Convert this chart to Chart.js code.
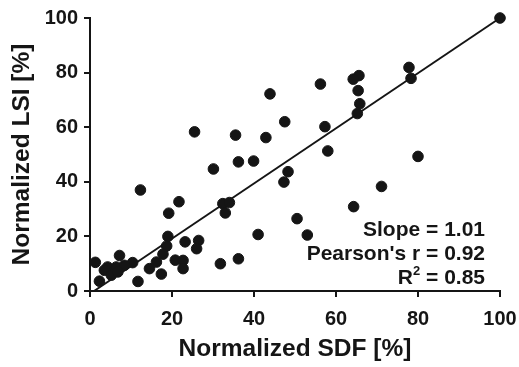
<!DOCTYPE html>
<html>
<head>
<meta charset="utf-8">
<script src="https://cdn.jsdelivr.net/npm/chart.js@4.4.1/dist/chart.umd.min.js"></script>
<style>
  html, body { margin: 0; padding: 0; background: #fff; }
  #wrap { width: 519px; height: 367px; }
</style>
</head>
<body>
<div id="wrap"><canvas id="scatter"></canvas></div>
<script>
// normalized SDF (x) and LSI (y)
const sdf = [100, 77.8, 78.3, 65.6, 64.2, 65.4, 65.8, 65.2, 56.2, 47.5,
             57.3, 58.0, 43.9, 25.5, 35.5, 42.9, 30.1, 36.2, 39.9, 48.3,
             47.3, 50.5, 12.3, 21.7, 19.2, 32.4, 34.0, 33.0, 41.0, 19.0,
             18.7, 23.2, 26.5, 26.0, 36.2, 31.8, 17.8, 20.8, 22.7, 22.7,
             16.2, 14.5, 17.4, 11.7, 10.4, 7.2, 1.3, 4.3, 6.4, 8.4,
             2.3, 3.5, 5.2, 6.8, 80.0, 71.1, 64.3, 53.0];
const lsi = [100, 81.9, 77.9, 78.9, 77.6, 73.4, 68.6, 65.0, 75.8, 62.0,
             60.2, 51.3, 72.2, 58.3, 57.1, 56.2, 44.7, 47.3, 47.6, 43.7,
             39.9, 26.5, 37.0, 32.7, 28.5, 32.0, 32.4, 28.6, 20.7, 20.0,
             16.5, 18.0, 18.5, 15.5, 11.8, 10.0, 13.5, 11.3, 11.2, 8.2,
             10.6, 8.2, 6.2, 3.5, 10.4, 13.0, 10.5, 8.8, 8.8, 9.4,
             3.6, 7.6, 5.8, 7.0, 49.3, 38.3, 30.9, 20.5];

// linear fit
const fitSlope = 1.01;
const fitIntercept = -1.0;
const fitRange = [1, 100];

const statLines = ['Slope = 1.01', "Pearson's r = 0.92", 'R2 = 0.85'];

const ink = '#151515';
const bold = (size) => ({ family: 'Liberation Sans, Arial, sans-serif', size: size, weight: 'bold' });

const points = sdf.map((x, i) => ({ x: x, y: lsi[i] }));
const fitLine = fitRange.map(x => ({ x: x, y: fitSlope * x + fitIntercept }));

const statsText = {
    id: 'statsText',
    afterDraw(chart) {
        const ctx = chart.ctx;
        const right = 485;
        ctx.save();
        ctx.fillStyle = ink;
        ctx.font = 'bold 21px "Liberation Sans", Arial, sans-serif';
        ctx.textAlign = 'right';
        ctx.textBaseline = 'alphabetic';
        ctx.fillText(statLines[0], right, 236);
        ctx.fillText(statLines[1], right, 260);
        // R squared with a raised 2
        const rest = statLines[2].slice(2);
        const restW = ctx.measureText(rest).width;
        ctx.fillText(rest, right, 284);
        ctx.font = 'bold 13px "Liberation Sans", Arial, sans-serif';
        const supW = ctx.measureText('2').width;
        ctx.fillText('2', right - restW, 275);
        ctx.font = 'bold 21px "Liberation Sans", Arial, sans-serif';
        ctx.fillText('R', right - restW - supW, 284);
        ctx.restore();
    }
};

new Chart(document.getElementById('scatter'), {
    type: 'scatter',
    data: {
        datasets: [{
            data: points,
            backgroundColor: ink,
            borderColor: ink,
            pointRadius: 5.3,
            pointHoverRadius: 5.3,
            clip: false
        }, {
            type: 'line',
            data: fitLine,
            borderColor: ink,
            borderWidth: 2,
            pointRadius: 0,
            fill: false,
            clip: false
        }]
    },
    options: {
        responsive: true,
        maintainAspectRatio: false,
        animation: false,
        layout: { autoPadding: false, padding: { top: 15, right: 19, left: 0, bottom: 0 } },
        plugins: {
            legend: { display: false },
            tooltip: { enabled: false }
        },
        scales: {
            x: {
                type: 'linear',
                min: 0,
                max: 100,
                ticks: { stepSize: 20, color: ink, font: bold(20), padding: 10 },
                grid: { drawOnChartArea: false, drawTicks: true, tickLength: 6, color: ink, lineWidth: 2 },
                border: { color: ink, width: 2 },
                title: { display: true, text: 'Normalized SDF [%]', color: ink, font: bold(24.5), padding: { top: 0, bottom: 3 } },
                afterFit(scale) {
                    scale.height = 76;
                    scale.paddingLeft = 0;
                    scale.paddingRight = 0;
                }
            },
            y: {
                type: 'linear',
                min: 0,
                max: 100,
                ticks: { stepSize: 20, color: ink, font: bold(20), padding: 6 },
                grid: { drawOnChartArea: false, drawTicks: true, tickLength: 6, color: ink, lineWidth: 2 },
                border: { color: ink, width: 2 },
                title: { display: true, text: 'Normalized LSI [%]', color: ink, font: bold(24.5), padding: { top: 8, bottom: 0 } },
                afterFit(scale) { scale.width = 90; }
            }
        }
    },
    plugins: [statsText]
});
</script>
</body>
</html>
